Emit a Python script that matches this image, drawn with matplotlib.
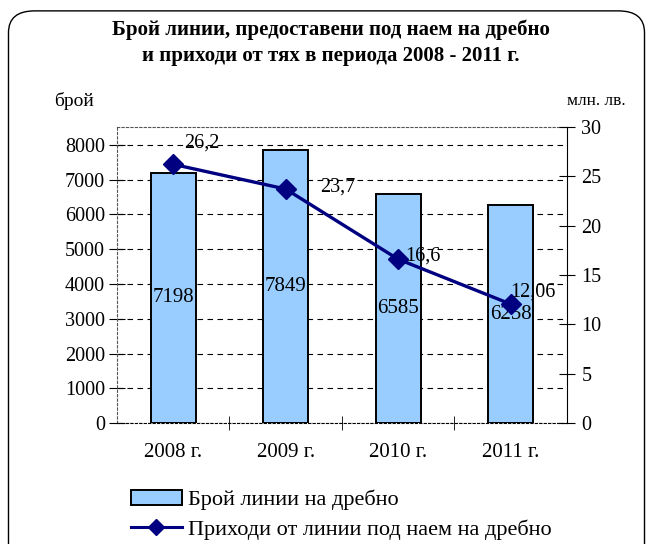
import matplotlib.pyplot as plt
from matplotlib.patches import FancyBboxPatch, Patch
from matplotlib.lines import Line2D

years = ["2008 г.", "2009 г.", "2010 г.", "2011 г."]
lines_count = [7198, 7849, 6585, 6258]
revenue = [26.2, 23.7, 16.6, 12.06]
revenue_labels = ["26,2", "23,7", "16,6", "12,06"]

plt.rcParams["font.family"] = ["Liberation Serif", "DejaVu Serif"]

fig = plt.figure(figsize=(6.53, 5.44), dpi=100)
fig.patch.set_facecolor("white")

# rounded frame around the whole chart
frame = FancyBboxPatch((0.013, -0.05), 0.974, 1.03, boxstyle="round,pad=0,rounding_size=0.04",
                       transform=fig.transFigure, facecolor="none", edgecolor="black", lw=1.0)
fig.patches.append(frame)

ax = fig.add_axes([0.179, 0.222, 0.689, 0.545])
x = list(range(len(years)))
ax.bar(x, lines_count, width=0.4, color="#99ccff", edgecolor="black", lw=1.4, zorder=2)
ax.set_xlim(-0.5, 3.5)
ax.set_ylim(0, 8520)
ax.set_yticks(range(0, 8001, 1000))
ax.yaxis.grid(True, ls=(0, (5, 4)), color="black", lw=0.8)
ax.set_axisbelow(True)
ax.set_xticks(x)
ax.set_xticklabels(years, fontsize=15)
ax.set_xticks([0.5, 1.5, 2.5], minor=True)
ax.tick_params(axis="x", which="major", length=0, pad=14)
ax.tick_params(axis="x", which="minor", length=10, direction="inout")
ax.tick_params(axis="y", labelsize=14.5, length=11, direction="inout", pad=3)
for s in ["top", "left"]:
    ax.spines[s].set_linestyle((0, (2, 2)))
    ax.spines[s].set_color("#555555")
ax.spines["right"].set_visible(False)
ax.spines["bottom"].set_linestyle((0, (2, 2)))

for xi, v in zip(x, lines_count):
    ax.text(xi, v / 2, str(v), ha="center", va="center", fontsize=15, zorder=4)

ax2 = ax.twinx()
ax2.set_ylim(0, 30)
ax2.set_yticks(range(0, 31, 5))
ax2.tick_params(axis="y", labelsize=14.5, length=11, direction="inout", pad=5)
for s in ["top", "left", "bottom"]:
    ax2.spines[s].set_visible(False)
ax2.plot(x, revenue, color="#000080", lw=2.4, marker="D", ms=10, zorder=5)
offsets = [(0.1, 2.2), (0.31, 0.2), (0.06, 0.3), (0.0, 1.2)]
for xi, v, lab, (dx, dy) in zip(x, revenue, revenue_labels, offsets):
    ax2.text(xi + dx, v + dy, lab, ha="left", va="center", fontsize=14.5, zorder=6)

fig.text(0.507, 0.945, "Брой линии, предоставени под наем на дребно",
         ha="center", va="center", fontsize=15, fontweight="bold")
fig.text(0.507, 0.897, "и приходи от тях в периода 2008 - 2011 г.",
         ha="center", va="center", fontsize=15, fontweight="bold")
fig.text(0.083, 0.815, "брой", fontsize=14, ha="left", va="center")
fig.text(0.958, 0.815, "млн. лв.", fontsize=12.5, ha="right", va="center")

handles = [Patch(facecolor="#99ccff", edgecolor="black", lw=1.4),
           Line2D([], [], color="#000080", lw=2.2, marker="D", ms=8)]
fig.legend(handles, ["Брой линии на дребно", "Приходи от линии под наем на дребно"],
           loc="upper left", bbox_to_anchor=(0.183, 0.12), frameon=False, fontsize=16,
           handlelength=2.3, handleheight=0.6, handletextpad=0.3, labelspacing=0.4, borderpad=0)

fig.savefig("out.png", dpi=100)
